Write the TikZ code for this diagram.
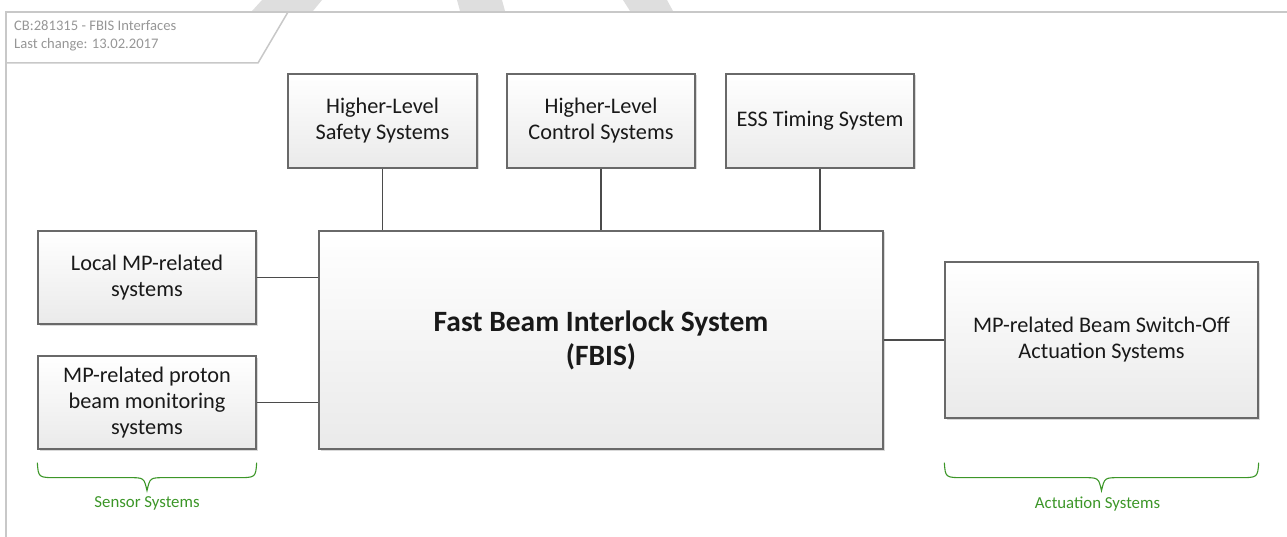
\documentclass[tikz,border=0pt]{standalone}
\usepackage{fontspec}
\setmainfont{Carlito}
\usetikzlibrary{shadows,calc}

\definecolor{framegray}{RGB}{200,200,200}
\definecolor{markgray}{RGB}{222,222,222}
\definecolor{titlegray}{RGB}{150,150,150}
\definecolor{boxline}{RGB}{105,105,105}
\definecolor{boxbottom}{RGB}{234,234,234}
\definecolor{wire}{RGB}{75,75,75}
\definecolor{groupgreen}{RGB}{60,150,40}
\definecolor{textdark}{RGB}{25,25,25}

\tikzset{
  sysbox/.style={draw=boxline, line width=1.3pt, top color=white, bottom color=boxbottom,
    drop shadow={shadow xshift=1.5pt, shadow yshift=-1.5pt, fill=black, opacity=0.15},
    align=center, text=textdark, inner sep=0pt,
    font=\fontsize{22.3}{26}\selectfont},
  link/.style={draw=wire, line width=1.5pt},
  groupbrace/.style={draw=groupgreen, line width=1.1pt},
  grouplabel/.style={text=groupgreen, font=\fontsize{16.8}{18}\selectfont},
}

\begin{document}
\begin{tikzpicture}[x=1pt, y=-1pt]
  \useasboundingbox (0,0) rectangle (1287,537);

  % fragments of the watermark lettering along the top edge
  \fill[markgray] (252,11) -- (262,0) -- (322,0) -- (313,11) -- cycle;
  \fill[markgray] (460,11) -- (457,0) -- (502,0) -- (505,11) -- cycle;
  \fill[markgray] (630,11) -- (623,0) -- (667,0) -- (673,11) -- cycle;

  % drawing frame and title block
  \draw[framegray, line width=2pt] (1287,12) -- (6,12) -- (6,537);
  \draw[framegray, line width=1.5pt] (6,63) -- (258,63) -- (288,12);
  \node[anchor=west, align=left, text=titlegray, inner sep=0pt,
        font=\fontsize{14.6}{18}\selectfont] (title) at (14,36)
        {CB:281315 - FBIS Interfaces\\Last change: 13.02.2017};

  % upper systems
  \node[sysbox, minimum width=189pt, minimum height=94pt] (safety)  at (382.5,121) {Higher-Level\\Safety Systems};
  \node[sysbox, minimum width=188pt, minimum height=94pt] (control) at (601,121)   {Higher-Level\\Control Systems};
  \node[sysbox, minimum width=188pt, minimum height=94pt] (timing)  at (820,121)   {ESS Timing System};

  % central interlock system
  \node[sysbox, minimum width=564pt, minimum height=218pt,
        font=\bfseries\fontsize{29.5}{34}\selectfont] (fbis) at (601,340)
        {Fast Beam Interlock System\\(FBIS)};

  % sensor side
  \node[sysbox, minimum width=218pt, minimum height=93pt] (local)  at (147,277.5) {Local MP-related\\systems};
  \node[sysbox, minimum width=218pt, minimum height=93pt] (proton) at (147,402.5) {MP-related proton\\beam monitoring\\systems};

  % actuation side
  \node[sysbox, minimum width=313pt, minimum height=156pt] (act) at (1101.5,340)
        {MP-related Beam Switch-Off\\Actuation Systems};

  % interfaces
  \draw[link] (safety.south)  -- (safety.south  |- fbis.north);
  \draw[link] (control.south) -- (control.south |- fbis.north);
  \draw[link] (timing.south)  -- (timing.south  |- fbis.north);
  \draw[link] (local.east)    -- (local.east    -| fbis.west);
  \draw[link] (proton.east)   -- (proton.east   -| fbis.west);
  \draw[link] (fbis.east |- act.west) -- (act.west);

  % group braces
  \coordinate (sL) at ($(proton.south west)+(0,13)$);
  \coordinate (sR) at ($(proton.south east)+(0,13)$);
  \coordinate (sT) at ($(proton.south)+(0,41)$);
  \draw[groupbrace] (sL) .. controls ($(sL)+(1,15)$) .. ($(sL)+(20,15)$)
     -- ($(sT)+(-18,-13)$) .. controls ($(sT)+(-3,-13)$) .. (sT)
     .. controls ($(sT)+(3,-13)$) .. ($(sT)+(18,-13)$)
     -- ($(sR)+(-20,15)$) .. controls ($(sR)+(-1,15)$) .. (sR);
  \node[grouplabel] (sensorlbl) at ($(sT)+(0,13)$) {Sensor Systems};

  \coordinate (aL) at (act.west |- sL);
  \coordinate (aR) at (act.east |- sL);
  \coordinate (aT) at (act.south |- sT);
  \draw[groupbrace] (aL) .. controls ($(aL)+(1,15)$) .. ($(aL)+(20,15)$)
     -- ($(aT)+(-18,-13)$) .. controls ($(aT)+(-3,-13)$) .. (aT)
     .. controls ($(aT)+(3,-13)$) .. ($(aT)+(18,-13)$)
     -- ($(aR)+(-20,15)$) .. controls ($(aR)+(-1,15)$) .. (aR);
  \node[grouplabel] (actlbl) at ($(aT)+(-4,13)$) {Actuation Systems};
\end{tikzpicture}
\end{document}
